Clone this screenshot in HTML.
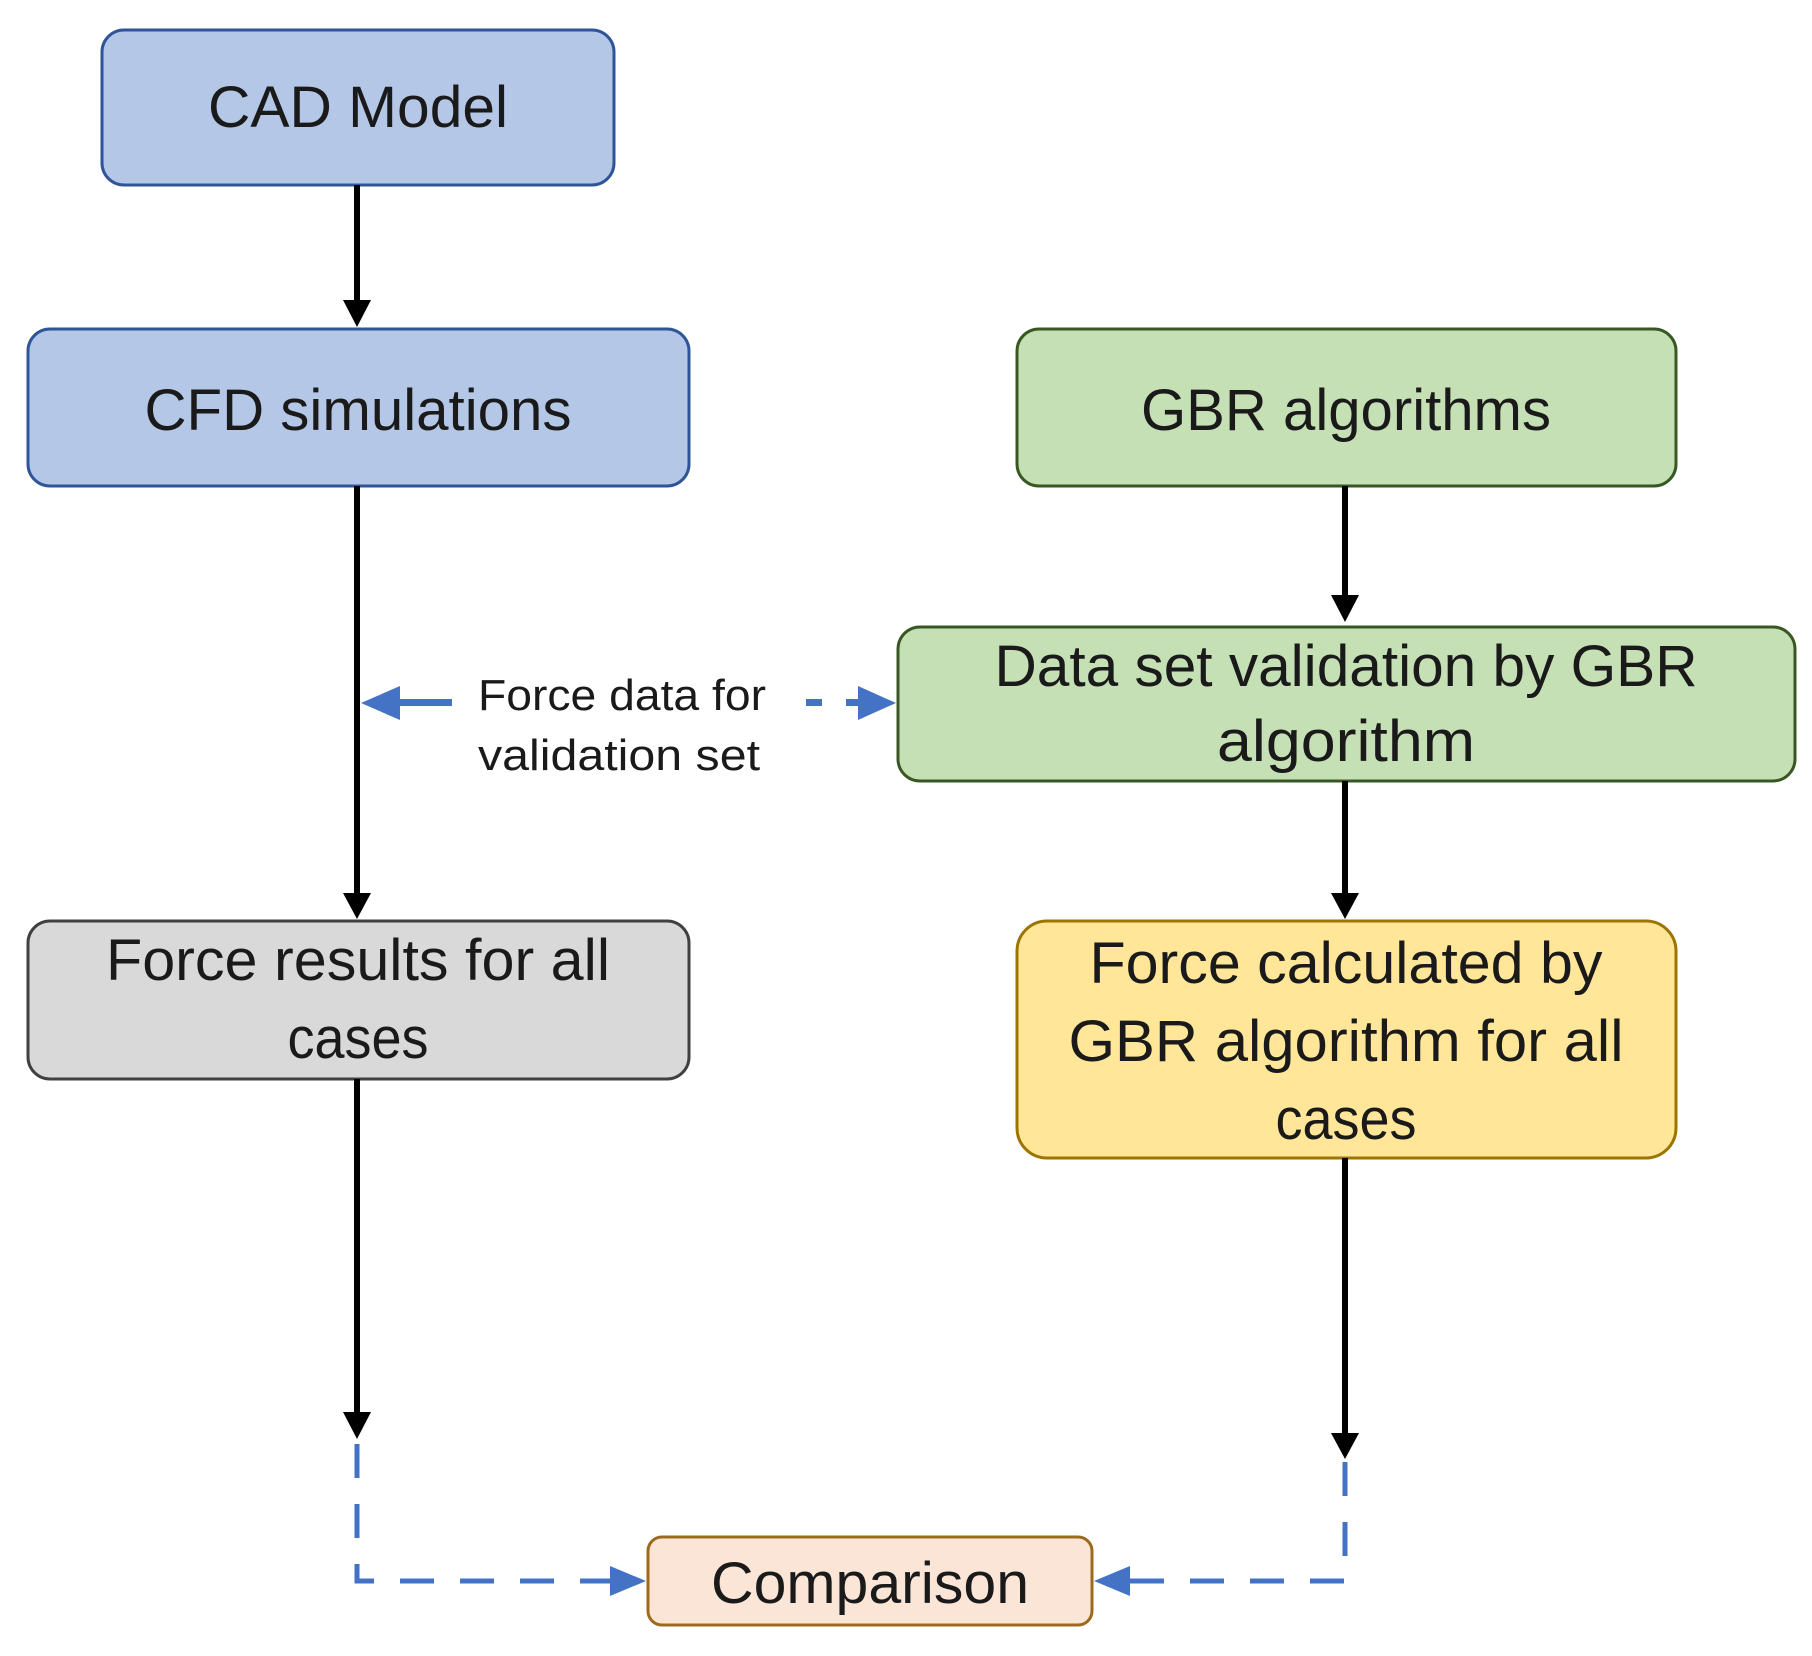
<!DOCTYPE html>
<html><head><meta charset="utf-8"><style>
html,body{margin:0;padding:0;background:#fff;}
svg{display:block;}
text{font-family:"Liberation Sans",sans-serif;fill:#1a1a1a;}
</style></head><body>
<svg width="1812" height="1656" viewBox="0 0 1812 1656" xmlns="http://www.w3.org/2000/svg">
<defs>
<marker id="ak" markerWidth="8" markerHeight="8" refX="6" refY="4" orient="auto" markerUnits="userSpaceOnUse" viewBox="0 0 8 8"><path d="M0,0 L8,4 L0,8 z" fill="#000"/></marker>
</defs>
<g stroke-width="3">
<rect x="102" y="30" width="512" height="155" rx="22" fill="#b4c7e7" stroke="#2f5597"/>
<rect x="28" y="329" width="661" height="157" rx="22" fill="#b4c7e7" stroke="#2f5597"/>
<rect x="1017" y="329" width="659" height="157" rx="22" fill="#c5e0b4" stroke="#385723"/>
<rect x="898" y="627" width="897" height="154" rx="22" fill="#c5e0b4" stroke="#385723"/>
<rect x="28" y="921" width="661" height="158" rx="22" fill="#d9d9d9" stroke="#404040"/>
<rect x="1017" y="921" width="659" height="237" rx="30" fill="#ffe699" stroke="#9c7400"/>
<rect x="648" y="1537" width="444" height="88" rx="14" fill="#fbe5d6" stroke="#9c6a1f"/>
</g>
<!-- black connectors -->
<g stroke="#000" stroke-width="6" fill="none">
<line x1="357" y1="185" x2="357" y2="305"/>
<line x1="357" y1="486" x2="357" y2="897"/>
<line x1="357" y1="1079" x2="357" y2="1415"/>
<line x1="1345" y1="486" x2="1345" y2="598"/>
<line x1="1345" y1="781" x2="1345" y2="897"/>
<line x1="1345" y1="1158" x2="1345" y2="1435"/>
</g>
<g fill="#000">
<path d="M343,300 L371,300 L357,327 z"/>
<path d="M343,893 L371,893 L357,919 z"/>
<path d="M343,1412 L371,1412 L357,1439 z"/>
<path d="M1331,595 L1359,595 L1345,622 z"/>
<path d="M1331,893 L1359,893 L1345,919 z"/>
<path d="M1331,1433 L1359,1433 L1345,1459 z"/>
</g>
<!-- blue dashed -->
<g stroke="#4472c4" stroke-width="5" fill="none" stroke-dasharray="34,26">
<path d="M357,1444 L357,1581 L612,1581"/>
<path d="M1345,1462 L1345,1581 L1120,1581"/>
</g>
<g fill="#4472c4">
<path d="M610,1566 L646,1581 L610,1596 z"/>
<path d="M1130,1566 L1094,1581 L1130,1596 z"/>
<rect x="385" y="699" width="67" height="7"/>
<path d="M361,703 L400,686 L400,720 z"/>
<rect x="806" y="699" width="16" height="7"/>
<rect x="846" y="699" width="18" height="7"/>
<path d="M896,703 L858,686 L858,720 z"/>
</g>
<!-- labels -->
<g font-size="58">
<text x="358" y="127" text-anchor="middle" textLength="300" lengthAdjust="spacingAndGlyphs">CAD Model</text>
<text x="358" y="430" text-anchor="middle" textLength="427" lengthAdjust="spacingAndGlyphs">CFD simulations</text>
<text x="1346" y="430" text-anchor="middle" textLength="410" lengthAdjust="spacingAndGlyphs">GBR algorithms</text>
<text x="1346" y="686" text-anchor="middle" textLength="703" lengthAdjust="spacingAndGlyphs">Data set validation by GBR</text>
<text x="1346" y="761" text-anchor="middle" textLength="258" lengthAdjust="spacingAndGlyphs">algorithm</text>
<text x="358" y="980" text-anchor="middle" textLength="504" lengthAdjust="spacingAndGlyphs">Force results for all</text>
<text x="358" y="1058" text-anchor="middle" textLength="141" lengthAdjust="spacingAndGlyphs">cases</text>
<text x="1346" y="983" text-anchor="middle" textLength="513" lengthAdjust="spacingAndGlyphs">Force calculated by</text>
<text x="1346" y="1061" text-anchor="middle" textLength="555" lengthAdjust="spacingAndGlyphs">GBR algorithm for all</text>
<text x="1346" y="1139" text-anchor="middle" textLength="141" lengthAdjust="spacingAndGlyphs">cases</text>
<text x="870" y="1603" text-anchor="middle" textLength="318" lengthAdjust="spacingAndGlyphs">Comparison</text>
</g>
<g font-size="44">
<text x="478" y="710" textLength="288" lengthAdjust="spacingAndGlyphs">Force data for</text>
<text x="478" y="770" textLength="282" lengthAdjust="spacingAndGlyphs">validation set</text>
</g>
</svg>
</body></html>
